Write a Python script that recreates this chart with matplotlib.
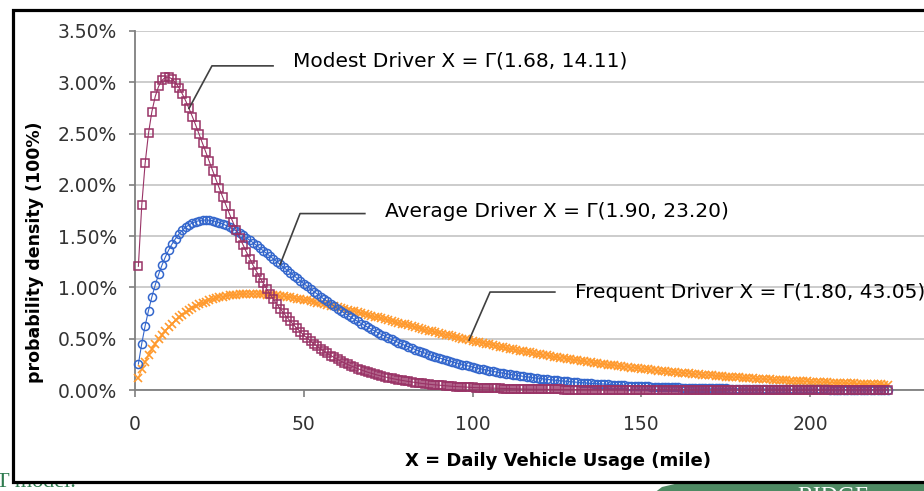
import matplotlib.pyplot as plt
import matplotlib.patches as mpatches
import numpy as np

plt.rcParams['font.family'] = 'DejaVu Sans'

# daily vehicle usage, one point per mile
miles = np.arange(1, 224)

# probability density in percent
modest = [
    1.206, 1.800, 2.209, 2.503, 2.714, 2.862, 2.961, 3.020, 3.048, 3.051,
    3.032, 2.997, 2.948, 2.888, 2.820, 2.745, 2.665, 2.581, 2.494, 2.406,
    2.317, 2.228, 2.139, 2.051, 1.965, 1.880, 1.797, 1.716, 1.637, 1.560,
    1.486, 1.415, 1.346, 1.280, 1.216, 1.155, 1.096, 1.040, 0.986, 0.934,
    0.885, 0.838, 0.793, 0.751, 0.710, 0.671, 0.635, 0.600, 0.567, 0.535,
    0.505, 0.477, 0.450, 0.425, 0.401, 0.378, 0.356, 0.336, 0.317, 0.298,
    0.281, 0.265, 0.249, 0.235, 0.221, 0.208, 0.196, 0.184, 0.173, 0.163,
    0.153, 0.144, 0.136, 0.128, 0.120, 0.113, 0.106, 0.100, 0.094, 0.088,
    0.083, 0.078, 0.073, 0.068, 0.064, 0.060, 0.057, 0.053, 0.050, 0.047,
    0.044, 0.041, 0.039, 0.036, 0.034, 0.032, 0.030, 0.028, 0.026, 0.025,
    0.023, 0.022, 0.021, 0.019, 0.018, 0.017, 0.016, 0.015, 0.014, 0.013,
    0.012, 0.011, 0.011, 0.010, 0.009, 0.009, 0.008, 0.008, 0.007, 0.007,
    0.006, 0.006, 0.006, 0.005, 0.005, 0.005, 0.004, 0.004, 0.004, 0.004,
    0.003, 0.003, 0.003, 0.003, 0.003, 0.002, 0.002, 0.002, 0.002, 0.002,
    0.002, 0.002, 0.002, 0.001, 0.001, 0.001, 0.001, 0.001, 0.001, 0.001,
    0.001, 0.001, 0.001, 0.001, 0.001, 0.001, 0.001, 0.001, 0.001, 0.000,
    0.000, 0.000, 0.000, 0.000, 0.000, 0.000, 0.000, 0.000, 0.000, 0.000,
    0.000, 0.000, 0.000, 0.000, 0.000, 0.000, 0.000, 0.000, 0.000, 0.000,
    0.000, 0.000, 0.000, 0.000, 0.000, 0.000, 0.000, 0.000, 0.000, 0.000,
    0.000, 0.000, 0.000, 0.000, 0.000, 0.000, 0.000, 0.000, 0.000, 0.000,
    0.000, 0.000, 0.000, 0.000, 0.000, 0.000, 0.000, 0.000, 0.000, 0.000,
    0.000, 0.000, 0.000, 0.000, 0.000, 0.000, 0.000, 0.000, 0.000, 0.000,
    0.000, 0.000, 0.000,
]

average = [
    0.253, 0.453, 0.625, 0.775, 0.908, 1.025, 1.127, 1.218, 1.297, 1.366,
    1.425, 1.476, 1.520, 1.556, 1.586, 1.610, 1.628, 1.642, 1.651, 1.656,
    1.657, 1.655, 1.650, 1.642, 1.632, 1.619, 1.604, 1.588, 1.570, 1.550,
    1.529, 1.507, 1.484, 1.460, 1.436, 1.410, 1.384, 1.358, 1.332, 1.305,
    1.278, 1.251, 1.224, 1.197, 1.170, 1.143, 1.116, 1.089, 1.063, 1.037,
    1.011, 0.985, 0.960, 0.935, 0.911, 0.886, 0.863, 0.839, 0.816, 0.794,
    0.772, 0.750, 0.729, 0.708, 0.688, 0.668, 0.648, 0.629, 0.611, 0.593,
    0.575, 0.558, 0.541, 0.524, 0.508, 0.493, 0.478, 0.463, 0.448, 0.434,
    0.421, 0.407, 0.394, 0.382, 0.370, 0.358, 0.346, 0.335, 0.324, 0.314,
    0.304, 0.294, 0.284, 0.275, 0.266, 0.257, 0.248, 0.240, 0.232, 0.224,
    0.217, 0.209, 0.202, 0.195, 0.189, 0.182, 0.176, 0.170, 0.164, 0.159,
    0.153, 0.148, 0.143, 0.138, 0.133, 0.128, 0.124, 0.120, 0.116, 0.112,
    0.108, 0.104, 0.100, 0.097, 0.093, 0.090, 0.087, 0.084, 0.081, 0.078,
    0.075, 0.072, 0.070, 0.067, 0.065, 0.063, 0.060, 0.058, 0.056, 0.054,
    0.052, 0.050, 0.048, 0.047, 0.045, 0.043, 0.042, 0.040, 0.039, 0.037,
    0.036, 0.035, 0.034, 0.032, 0.031, 0.030, 0.029, 0.028, 0.027, 0.026,
    0.025, 0.024, 0.023, 0.022, 0.021, 0.021, 0.020, 0.019, 0.018, 0.018,
    0.017, 0.016, 0.016, 0.015, 0.015, 0.014, 0.014, 0.013, 0.013, 0.012,
    0.012, 0.011, 0.011, 0.010, 0.010, 0.010, 0.009, 0.009, 0.009, 0.008,
    0.008, 0.008, 0.007, 0.007, 0.007, 0.007, 0.006, 0.006, 0.006, 0.006,
    0.005, 0.005, 0.005, 0.005, 0.005, 0.004, 0.004, 0.004, 0.004, 0.004,
    0.004, 0.004, 0.003, 0.003, 0.003, 0.003, 0.003, 0.003, 0.003, 0.003,
    0.003, 0.002, 0.002,
]

frequent = [
    0.120, 0.204, 0.276, 0.340, 0.397, 0.449, 0.496, 0.539, 0.579, 0.615,
    0.648, 0.679, 0.708, 0.734, 0.757, 0.779, 0.799, 0.817, 0.834, 0.849,
    0.862, 0.874, 0.885, 0.895, 0.903, 0.911, 0.917, 0.923, 0.927, 0.931,
    0.933, 0.936, 0.937, 0.937, 0.937, 0.937, 0.936, 0.934, 0.931, 0.929,
    0.925, 0.922, 0.918, 0.913, 0.909, 0.903, 0.898, 0.892, 0.886, 0.880,
    0.874, 0.867, 0.860, 0.853, 0.846, 0.838, 0.831, 0.823, 0.815, 0.807,
    0.799, 0.791, 0.783, 0.775, 0.766, 0.758, 0.749, 0.741, 0.732, 0.724,
    0.715, 0.707, 0.698, 0.690, 0.681, 0.673, 0.664, 0.655, 0.647, 0.639,
    0.630, 0.622, 0.613, 0.605, 0.597, 0.589, 0.580, 0.572, 0.564, 0.556,
    0.548, 0.540, 0.533, 0.525, 0.517, 0.509, 0.502, 0.494, 0.487, 0.480,
    0.472, 0.465, 0.458, 0.451, 0.444, 0.437, 0.430, 0.423, 0.417, 0.410,
    0.404, 0.397, 0.391, 0.385, 0.378, 0.372, 0.366, 0.360, 0.355, 0.349,
    0.343, 0.337, 0.332, 0.326, 0.321, 0.315, 0.310, 0.305, 0.300, 0.295,
    0.290, 0.285, 0.280, 0.275, 0.270, 0.266, 0.261, 0.257, 0.252, 0.248,
    0.244, 0.239, 0.235, 0.231, 0.227, 0.223, 0.219, 0.215, 0.211, 0.208,
    0.204, 0.200, 0.197, 0.193, 0.190, 0.186, 0.183, 0.180, 0.177, 0.173,
    0.170, 0.167, 0.164, 0.161, 0.158, 0.155, 0.152, 0.150, 0.147, 0.144,
    0.142, 0.139, 0.136, 0.134, 0.131, 0.129, 0.127, 0.124, 0.122, 0.120,
    0.118, 0.115, 0.113, 0.111, 0.109, 0.107, 0.105, 0.103, 0.101, 0.099,
    0.097, 0.095, 0.094, 0.092, 0.090, 0.088, 0.087, 0.085, 0.083, 0.082,
    0.080, 0.079, 0.077, 0.076, 0.074, 0.073, 0.072, 0.070, 0.069, 0.068,
    0.066, 0.065, 0.064, 0.062, 0.061, 0.060, 0.059, 0.058, 0.057, 0.056,
    0.054, 0.053, 0.052,
]

series_labels = ['Modest Driver X = Γ(1.68, 14.11)',
                 'Average Driver X = Γ(1.90, 23.20)',
                 'Frequent Driver X = Γ(1.80, 43.05)']
y_ticks = [0.0, 0.5, 1.0, 1.5, 2.0, 2.5, 3.0, 3.5]
x_ticks = [0, 50, 100, 150, 200]

W, H = 924, 491


def fx(px):
    return px / W


def fy(py):
    return 1 - py / H


fig = plt.figure(figsize=(W / 100, H / 100), dpi=100)

# bits of the surrounding page that show round the pasted chart
fig.text(fx(-4), fy(487), 'T model.', family='Liberation Serif', fontsize=16,
         color='#2E7B4F', va='baseline', zorder=-3)
logo = mpatches.Polygon([(fx(645), fy(500)), (fx(662), fy(487)), (fx(700), fy(478)),
                         (fx(930), fy(478)), (fx(930), fy(500))],
                        closed=True, transform=fig.transFigure,
                        facecolor='#4E8A63', edgecolor='none', zorder=-2)
fig.patches.append(logo)
fig.text(fx(797), fy(502), 'RIDGE', family='Liberation Serif', fontsize=17,
         color='white', va='baseline', zorder=-1.5)

# chart border
frame = mpatches.Rectangle((fx(12.5), fy(482)), fx(960) - fx(12.5), fy(9.5) - fy(482),
                           transform=fig.transFigure, facecolor='white',
                           edgecolor='black', linewidth=2.3, zorder=-1)
fig.patches.append(frame)

ax = fig.add_axes([fx(135), fy(390), fx(924) - fx(135), fy(31) - fy(390)])
ax.patch.set_alpha(0)

maroon = '#993366'
blue = '#3366CC'
orange = '#FF9A2E'

ax.plot(miles, frequent, color=orange, lw=0.8, marker='x', ms=5.5, mew=1.2,
        clip_on=False, zorder=3)
ax.plot(miles, average, color=blue, lw=0.8, marker='o', ms=5.8, mfc='none',
        mew=1.1, clip_on=False, zorder=4)
ax.plot(miles, modest, color=maroon, lw=0.8, marker='s', ms=6.3, mfc='none',
        mew=1.1, clip_on=False, zorder=5)

ax.set_xlim(0, (924 - 135) / 3.375)
ax.set_ylim(0, 3.5)

ax.set_yticks(y_ticks)
ax.set_yticklabels([f'{v:.2f}%' for v in y_ticks])
ax.set_xticks(x_ticks)
ax.set_xticklabels([str(v) for v in x_ticks])

ax.yaxis.grid(True, color='#C4C4C4', linewidth=1.2)
ax.set_axisbelow(True)
for side in ['top', 'right']:
    ax.spines[side].set_visible(False)
for side in ['left', 'bottom']:
    ax.spines[side].set_color('#7F7F7F')
    ax.spines[side].set_linewidth(1.3)

ax.tick_params(axis='y', direction='out', length=4, width=1.2, color='#7F7F7F',
               pad=9, labelsize=13.5, labelcolor='#333333')
ax.tick_params(axis='x', direction='out', length=5, width=1.2, color='#7F7F7F',
               pad=13, labelsize=13.5, labelcolor='#333333')

fig.text(fx(558), fy(461), 'X = Daily Vehicle Usage (mile)', ha='center',
         va='center', fontsize=13, fontweight='bold')
fig.text(fx(35), fy(252), 'probability density (100%)', rotation=90,
         ha='center', va='center', fontsize=12.5, fontweight='bold')

# leader lines: curve point -> bend -> end of horizontal stroke
leaders = [
    ([16, 22.8, 40.9], [modest[15], 3.16, 3.16], (46.8, 3.152)),
    ([43, 48.9, 68.1], [average[42], 1.72, 1.72], (74.1, 1.690)),
    ([99, 105.2, 124.4], [frequent[98], 0.955, 0.955], (130.4, 0.897)),
]
for (lx, ly, pos), text in zip(leaders, series_labels):
    ax.plot(lx, ly, color='#404040', lw=1.2, clip_on=False, zorder=6)
    ax.text(pos[0], pos[1], text, fontsize=14.5, va='baseline', ha='left',
            zorder=6)

fig.savefig('out.png', dpi=100)
